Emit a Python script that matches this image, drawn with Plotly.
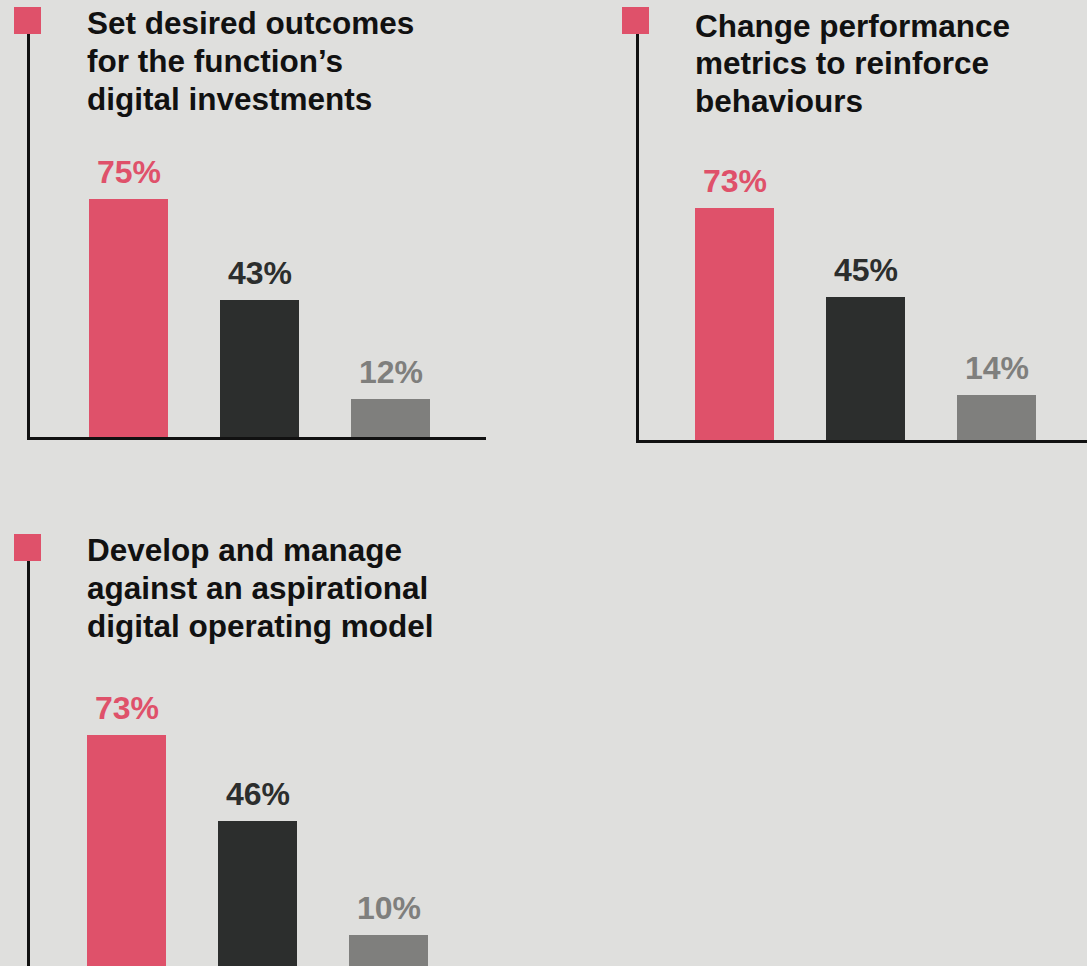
import plotly.graph_objects as go

# ---- data ----
categories = ["A", "B", "C"]
title_p1 = ["Set desired outcomes", "for the function’s", "digital investments"]
title_p2 = ["Change performance", "metrics to reinforce", "behaviours"]
title_p3 = ["Develop and manage", "against an aspirational", "digital operating model"]
values_p1 = [75, 43, 12]
values_p2 = [73, 45, 14]
values_p3 = [73, 46, 10]
labels_p1 = ["75%", "43%", "12%"]
labels_p2 = ["73%", "45%", "14%"]
labels_p3 = ["73%", "46%", "10%"]

bar_colors = ["#DF516A", "#2C2E2D", "#7F7F7D"]
BG = "#DFDFDD"
INK = "#111111"
FONT = "Liberation Sans, Arial, sans-serif"

W, H = 1087, 966


def px(x):
    return x / W


def py(y):
    return 1 - y / H


fig = go.Figure()

panels = [
    # (values, labels, axis suffix, x domain px, y domain px (top,bottom), x range, y range)
    (values_p1, labels_p1, "", (30, 486), (34, 437), [-0.752, 2.729], [0, 403 / 3.18]),
    (values_p2, labels_p2, "2", (638.5, 1087), (34, 440), [-0.734, 2.690], [0, 406 / 3.18]),
    (values_p3, labels_p3, "3", (30, 486), (561, 966), [-0.737, 2.744], [0.3, 0.3 + 405 / 3.18]),
]

xs = [0, 1, 2]
for vals, labs, sfx, xd, yd, xr, yr in panels:
    fig.add_trace(go.Bar(
        x=xs, y=vals, width=0.603,
        marker=dict(color=bar_colors, line=dict(width=0)),
        xaxis="x" + sfx, yaxis="y" + sfx,
        hovertext=categories, showlegend=False,
    ))
    fig.layout["xaxis" + sfx] = dict(
        domain=[px(xd[0]), px(xd[1])], range=xr, anchor="y" + sfx,
        showline=True, linecolor=INK, linewidth=3, showgrid=False,
        zeroline=False, showticklabels=False, ticks="", fixedrange=True,
    )
    fig.layout["yaxis" + sfx] = dict(
        domain=[py(yd[1]), py(yd[0])], range=yr, anchor="x" + sfx,
        showline=True, linecolor=INK, linewidth=3, showgrid=False,
        zeroline=False, showticklabels=False, ticks="", fixedrange=True,
    )
    for i, (v, t) in enumerate(zip(vals, labs)):
        fig.add_annotation(
            x=xs[i], y=v, xref="x" + sfx, yref="y" + sfx, text="<b>" + t + "</b>",
            showarrow=False, yanchor="bottom", xanchor="center", yshift=7,
            font=dict(family=FONT, size=32, color=bar_colors[i]),
        )

# square markers and titles (one annotation per title line)
squares = [(14, 7), (622, 7), (14, 534)]
title_pos = [(85, 3, 38), (693, 6, 37.5), (85, 530, 38)]
for (sx, sy), (tx, ty, step), lines in zip(squares, title_pos,
                                           [title_p1, title_p2, title_p3]):
    fig.add_shape(type="rect", xref="paper", yref="paper",
                  x0=px(sx), x1=px(sx + 27), y0=py(sy + 27), y1=py(sy),
                  fillcolor=bar_colors[0], line=dict(width=0))
    for k, line in enumerate(lines):
        fig.add_annotation(
            x=px(tx), y=py(ty + k * step), xref="paper", yref="paper",
            text="<b>" + line + "</b>",
            showarrow=False, xanchor="left", yanchor="top", align="left",
            font=dict(family=FONT, size=31.5, color=INK),
        )

fig.update_layout(
    width=W, height=H, margin=dict(l=0, r=0, t=0, b=0),
    paper_bgcolor=BG, plot_bgcolor=BG, bargap=0,
    font=dict(family=FONT), hovermode=False,
)

fig.write_html(
    "out.html",
    config={"displayModeBar": False, "staticPlot": True},
    post_script="document.body.style.margin='0';document.body.style.overflow='hidden';",
)
